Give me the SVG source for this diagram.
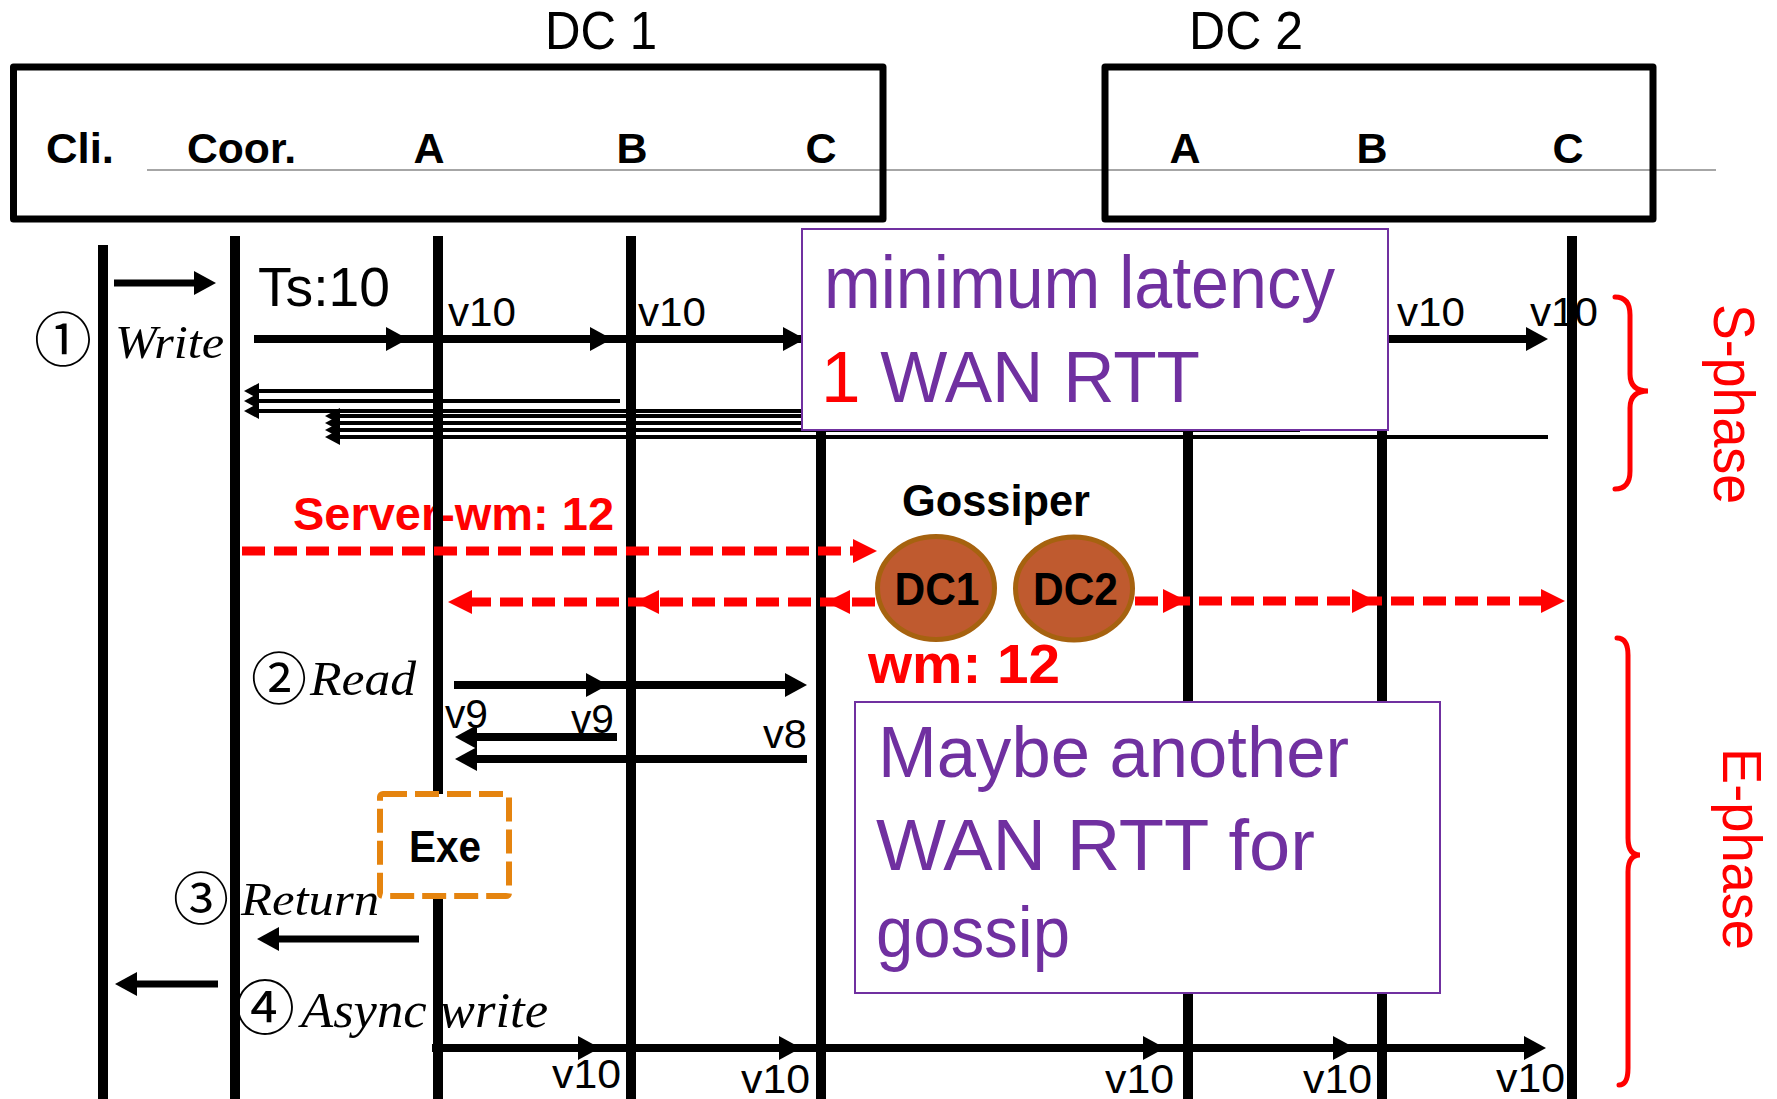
<svg xmlns="http://www.w3.org/2000/svg" width="1777" height="1099" viewBox="0 0 1777 1099">
<style>
  .sans { font-family: "Liberation Sans", Arial, sans-serif; }
  .bold { font-family: "Liberation Sans", Arial, sans-serif; font-weight: bold; }
  .ital { font-family: "Liberation Serif", "Times New Roman", serif; font-style: italic; }
  .circ { font-family: "Noto Sans CJK JP", "DejaVu Sans", sans-serif; }
  .hand { font-family: "Liberation Sans", Arial, sans-serif; fill: #7030A0; }
  .dcbox { fill: none; stroke: #000; stroke-width: 7; stroke-linejoin: round; }
  .life { stroke: #000; stroke-width: 10; }
  .arr { stroke: #000; stroke-width: 8; fill: none; }
  .arr7 { stroke: #000; stroke-width: 7; fill: none; }
  .thin { stroke: #000; stroke-width: 4; fill: none; }
  .dash { stroke: #FF0000; stroke-width: 9; stroke-dasharray: 23 9; fill: none; }
  .note { fill: #FFFFFF; stroke: #7030A0; stroke-width: 2; }
  .gos { fill: #BF5A2F; stroke: #A6620F; stroke-width: 5; }
  .brace { fill: none; stroke: #FF0000; stroke-width: 5; stroke-linecap: round; }
  .red { fill: #FF0000; }
</style>
<defs>
  <marker id="ah" markerUnits="userSpaceOnUse" viewBox="0 0 22 24" markerWidth="22" markerHeight="24" refX="10" refY="12" orient="auto">
    <path d="M0,0 L22,12 L0,24 z" fill="#000"/>
  </marker>
  <marker id="ahs" markerUnits="userSpaceOnUse" viewBox="0 0 15 16" markerWidth="15" markerHeight="16" refX="7" refY="8" orient="auto">
    <path d="M0,0 L15,8 L0,16 z" fill="#000"/>
  </marker>
  <marker id="re" markerUnits="userSpaceOnUse" viewBox="0 0 24 24" markerWidth="24" markerHeight="24" refX="12" refY="12" orient="auto">
    <path d="M0,0 L24,12 L0,24 z" fill="#FF0000"/>
  </marker>
  <marker id="rm" markerUnits="userSpaceOnUse" viewBox="0 0 24 24" markerWidth="24" markerHeight="24" refX="24" refY="12" orient="auto">
    <path d="M0,0 L24,12 L0,24 z" fill="#FF0000"/>
  </marker>
</defs>
<rect width="1777" height="1099" fill="#FFFFFF"/>

<!-- header -->
<g id="dc1-header">
  <line x1="147" y1="170" x2="1716" y2="170" stroke="#A6A6A6" stroke-width="2"/>
  <rect class="dcbox" x="13.5" y="67" width="869.5" height="152"/>
  <text class="sans" x="545" y="49" font-size="53" textLength="112" lengthAdjust="spacingAndGlyphs">DC 1</text>
</g>
<g id="dc2-header">
  <rect class="dcbox" x="1105" y="67" width="548" height="152"/>
  <text class="sans" x="1189" y="49" font-size="53" textLength="114" lengthAdjust="spacingAndGlyphs">DC 2</text>
</g>

<!-- texts under lifelines -->
<g id="labels">
  <text class="sans" x="258" y="306" font-size="56" textLength="132" lengthAdjust="spacingAndGlyphs">Ts:10</text>
  <text class="sans" x="448" y="326" font-size="41" textLength="68" lengthAdjust="spacingAndGlyphs">v10</text>
  <text class="sans" x="638" y="326" font-size="41" textLength="68" lengthAdjust="spacingAndGlyphs">v10</text>
  <text class="sans" x="1397" y="326" font-size="41" textLength="68" lengthAdjust="spacingAndGlyphs">v10</text>
  <text class="sans" x="1530" y="326" font-size="41" textLength="68" lengthAdjust="spacingAndGlyphs">v10</text>
  <text class="circ" x="63" y="361" font-size="58" text-anchor="middle">①</text>
  <text class="ital" x="115" y="358" font-size="47" textLength="109" lengthAdjust="spacingAndGlyphs">Write</text>
  <text class="bold red" x="293" y="530" font-size="46" textLength="321" lengthAdjust="spacingAndGlyphs">Server-wm: 12</text>
  <text class="circ" x="279" y="699" font-size="56" text-anchor="middle">②</text>
  <text class="ital" x="310" y="695" font-size="48" textLength="106" lengthAdjust="spacingAndGlyphs">Read</text>
  <text class="sans" x="445" y="728" font-size="41" textLength="43" lengthAdjust="spacingAndGlyphs">v9</text>
  <text class="sans" x="571" y="733" font-size="41" textLength="43" lengthAdjust="spacingAndGlyphs">v9</text>
  <text class="sans" x="763" y="748" font-size="41" textLength="44" lengthAdjust="spacingAndGlyphs">v8</text>
  <text class="circ" x="201" y="919" font-size="56" text-anchor="middle">③</text>
  <text class="ital" x="241" y="915" font-size="46" textLength="138" lengthAdjust="spacingAndGlyphs">Return</text>
  <text class="circ" x="265" y="1030" font-size="60" text-anchor="middle">④</text>
  <text class="ital" x="301" y="1027" font-size="51" textLength="247" lengthAdjust="spacingAndGlyphs">Async write</text>
  <text class="sans" x="552" y="1088" font-size="41" textLength="69" lengthAdjust="spacingAndGlyphs">v10</text>
  <text class="sans" x="741" y="1093" font-size="41" textLength="69" lengthAdjust="spacingAndGlyphs">v10</text>
  <text class="sans" x="1105" y="1093" font-size="41" textLength="69" lengthAdjust="spacingAndGlyphs">v10</text>
  <text class="sans" x="1303" y="1093" font-size="41" textLength="69" lengthAdjust="spacingAndGlyphs">v10</text>
  <text class="sans" x="1496" y="1092" font-size="41" textLength="69" lengthAdjust="spacingAndGlyphs">v10</text>
</g>

<!-- lifelines -->
<g id="cli"><line class="life" x1="103" y1="245" x2="103" y2="1099"/><text class="bold" x="46" y="163" font-size="43" textLength="68" lengthAdjust="spacingAndGlyphs">Cli.</text></g>
<g id="coor"><line class="life" x1="235" y1="236" x2="235" y2="1099"/><text class="bold" x="187" y="163" font-size="43" textLength="109" lengthAdjust="spacingAndGlyphs">Coor.</text></g>
<g id="dc1-a"><line class="life" x1="438" y1="236" x2="438" y2="1099"/><text class="bold" x="429" y="163" font-size="43" text-anchor="middle">A</text></g>
<g id="dc1-b"><line class="life" x1="631" y1="236" x2="631" y2="1099"/><text class="bold" x="632" y="163" font-size="43" text-anchor="middle">B</text></g>
<g id="dc1-c"><line class="life" x1="821" y1="236" x2="821" y2="1099"/><text class="bold" x="821" y="163" font-size="43" text-anchor="middle">C</text></g>
<g id="dc2-a"><line class="life" x1="1188" y1="236" x2="1188" y2="1099"/><text class="bold" x="1185" y="163" font-size="43" text-anchor="middle">A</text></g>
<g id="dc2-b"><line class="life" x1="1382" y1="236" x2="1382" y2="1099"/><text class="bold" x="1372" y="163" font-size="43" text-anchor="middle">B</text></g>
<g id="dc2-c"><line class="life" x1="1572" y1="236" x2="1572" y2="1099"/><text class="bold" x="1568" y="163" font-size="43" text-anchor="middle">C</text></g>

<!-- connectors -->
<g id="connectors">
  <path class="arr7" d="M114,283 H204" marker-end="url(#ah)"/>
  <path class="arr" d="M254,339 H396" marker-end="url(#ah)"/>
  <path class="arr" d="M396,339 H600" marker-end="url(#ah)"/>
  <path class="arr" d="M600,339 H793" marker-end="url(#ah)"/>
  <path class="arr" d="M793,339 H1536" marker-end="url(#ah)"/>

  <path class="thin" d="M437,391 H252" marker-end="url(#ahs)"/>
  <path class="thin" d="M620,401 H252" marker-end="url(#ahs)"/>
  <path class="thin" d="M821,411 H252" marker-end="url(#ahs)"/>
  <path class="thin" d="M1188,416 H333" marker-end="url(#ahs)"/>
  <path class="thin" d="M1382,423 H333" marker-end="url(#ahs)"/>
  <path class="thin" d="M1300,430 H333" marker-end="url(#ahs)"/>
  <path class="thin" d="M1548,437 H333" marker-end="url(#ahs)"/>

  <path class="dash" d="M242,551 H865" marker-end="url(#re)"/>
  <path class="dash" d="M875,602 L826,602 L635,602 L460,602" marker-mid="url(#rm)" marker-end="url(#re)"/>
  <path class="dash" d="M1135,601 L1187,601 L1376,601 L1553,601" marker-mid="url(#rm)" marker-end="url(#re)"/>

  <path class="arr" d="M454,685 H596" marker-end="url(#ah)"/>
  <path class="arr" d="M596,685 H795" marker-end="url(#ah)"/>
  <path class="arr" d="M617,737 H467" marker-end="url(#ah)"/>
  <path class="arr" d="M807,759 H467" marker-end="url(#ah)"/>

  <path class="arr7" d="M419,939 H269" marker-end="url(#ah)"/>
  <path class="arr7" d="M218,984 H127" marker-end="url(#ah)"/>

  <path class="arr" d="M432,1048 H588" marker-end="url(#ah)"/>
  <path class="arr" d="M588,1048 H789" marker-end="url(#ah)"/>
  <path class="arr" d="M789,1048 H1153" marker-end="url(#ah)"/>
  <path class="arr" d="M1153,1048 H1343" marker-end="url(#ah)"/>
  <path class="arr" d="M1343,1048 H1534" marker-end="url(#ah)"/>
</g>

<g id="note-latency">
  <rect class="note" x="802" y="229" width="586" height="201"/>
  <text class="hand" x="824" y="308" font-size="74" textLength="511" lengthAdjust="spacingAndGlyphs">minimum latency</text>
  <text class="hand" x="821" y="402" font-size="72" textLength="379" lengthAdjust="spacingAndGlyphs"><tspan fill="#FF0000">1</tspan> WAN RTT</text>
</g>

<g id="gossiper">
  <text class="bold" x="902" y="516" font-size="45" textLength="188" lengthAdjust="spacingAndGlyphs">Gossiper</text>
  <text class="bold red" x="868" y="683" font-size="56" textLength="192" lengthAdjust="spacingAndGlyphs">wm: 12</text>
</g>
<g id="gossiper-dc1">
  <ellipse class="gos" cx="936" cy="588" rx="58.5" ry="51.5"/>
  <text class="bold" x="937" y="605" font-size="46" text-anchor="middle" textLength="85" lengthAdjust="spacingAndGlyphs">DC1</text>
</g>
<g id="gossiper-dc2">
  <ellipse class="gos" cx="1074" cy="588.5" rx="58.5" ry="51.5"/>
  <text class="bold" x="1075.5" y="605" font-size="46" text-anchor="middle" textLength="85" lengthAdjust="spacingAndGlyphs">DC2</text>
</g>

<g id="exe">
  <rect x="380" y="794" width="129" height="102" fill="#FFFFFF" stroke="#E5840F" stroke-width="6" stroke-dasharray="24 8" rx="3"/>
  <text class="bold" x="409" y="862" font-size="45" textLength="72" lengthAdjust="spacingAndGlyphs">Exe</text>
</g>

<g id="note-gossip">
  <rect class="note" x="855" y="702" width="585" height="291"/>
  <text class="hand" x="878" y="777" font-size="72" textLength="471" lengthAdjust="spacingAndGlyphs">Maybe another</text>
  <text class="hand" x="876" y="870" font-size="72" textLength="439" lengthAdjust="spacingAndGlyphs">WAN RTT for</text>
  <text class="hand" x="876" y="957" font-size="72" textLength="194" lengthAdjust="spacingAndGlyphs">gossip</text>
</g>

<g id="s-phase">
  <path class="brace" d="M1615,297 Q1630,297 1630,315 V374 Q1630,391 1648,391 Q1630,391 1630,408 V471 Q1630,489 1615,489"/>
  <text class="sans red" transform="translate(1714,404) rotate(90)" x="0" y="0" font-size="57" text-anchor="middle" textLength="200" lengthAdjust="spacingAndGlyphs">S-phase</text>
</g>
<g id="e-phase">
  <path class="brace" d="M1617,638 Q1628,638 1628,655 V838 Q1628,855 1640,855 Q1628,855 1628,872 V1068 Q1628,1085 1619,1085"/>
  <text class="sans red" transform="translate(1723,849) rotate(90)" x="0" y="0" font-size="55" text-anchor="middle" textLength="202" lengthAdjust="spacingAndGlyphs">E-phase</text>
</g>
</svg>
